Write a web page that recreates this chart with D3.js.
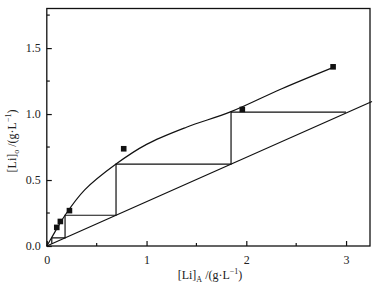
<!DOCTYPE html>
<html lang="en">
<head>
<meta charset="UTF-8">
<title>Li extraction stages</title>
<script src="https://d3js.org/d3.v7.min.js"></script>
<style>
  body { margin: 0; background: #fff; }
  text { font-family: "Liberation Serif", "Times New Roman", serif; fill: #222; }
</style>
</head>
<body>
<div id="chart"></div>
<script>
// measured points [Li]A, [Li]o
var pointsX = [0.10, 0.136, 0.227, 0.771, 1.96, 2.87];
var pointsY = [0.141, 0.186, 0.268, 0.737, 1.035, 1.358];

// equilibrium curve
var curveX = [0, 0.05, 0.183, 0.38, 0.694, 1.0, 1.4, 1.847, 2.35, 2.86];
var curveY = [0, 0.065, 0.233, 0.425, 0.621, 0.77, 0.9, 1.018, 1.19, 1.35];

// operating line end points
var opX = [0, 3.26];
var opY = [0, 1.095];

// staircase corners
var stepX = [3.0, 1.847, 1.847, 0.694, 0.694, 0.183, 0.183, 0.05, 0.05];
var stepY = [1.015, 1.015, 0.621, 0.621, 0.233, 0.233, 0.0615, 0.0615, 0.017];

var xTicks = [0, 1, 2, 3];
var yTicks = [0.0, 0.5, 1.0, 1.5];

var width = 386, height = 292;
var margin = {left: 46.8, right: 16, top: 8.5, bottom: 46};

var svg = d3.select("#chart").append("svg")
  .attr("width", width)
  .attr("height", height);

var x = d3.scaleLinear().domain([0, 3.24]).range([margin.left, width - margin.right]);
var y = d3.scaleLinear().domain([0, 1.8]).range([height - margin.bottom, margin.top]);

// frame
svg.append("rect")
  .attr("x", x(0)).attr("y", y(1.8))
  .attr("width", x(3.24) - x(0)).attr("height", y(0) - y(1.8))
  .attr("fill", "none").attr("stroke", "#111").attr("stroke-width", 1.3);

// axes with inward ticks
var xAxis = d3.axisBottom(x).tickValues(xTicks).tickSize(-5).tickPadding(9)
  .tickFormat(d3.format("d"));
var gx = svg.append("g").attr("transform", "translate(0," + y(0) + ")").call(xAxis);
var yAxis = d3.axisLeft(y).tickValues(yTicks).tickSize(-5).tickPadding(6)
  .tickFormat(d3.format(".1f"));
var gy = svg.append("g").attr("transform", "translate(" + x(0) + ",0)").call(yAxis);

[gx, gy].forEach(function(g) {
  g.select(".domain").remove();
  g.selectAll("line").attr("stroke", "#111").attr("stroke-width", 1.2);
  g.selectAll("text").style("font-size", "12px").attr("fill", "#222");
});

// minor ticks
svg.append("g").selectAll("line").data([0.5, 1.5, 2.5]).enter().append("line")
  .attr("x1", function(d) { return x(d); }).attr("x2", function(d) { return x(d); })
  .attr("y1", y(0)).attr("y2", y(0) - 3)
  .attr("stroke", "#111").attr("stroke-width", 1.2);
svg.append("g").selectAll("line").data([0.25, 0.75, 1.25, 1.75]).enter().append("line")
  .attr("y1", function(d) { return y(d); }).attr("y2", function(d) { return y(d); })
  .attr("x1", x(0)).attr("x2", x(0) + 3)
  .attr("stroke", "#111").attr("stroke-width", 1.2);

var line = d3.line().x(function(d) { return x(d[0]); }).y(function(d) { return y(d[1]); });

// operating line
svg.append("path")
  .attr("d", line(d3.zip(opX, opY)))
  .attr("fill", "none").attr("stroke", "#111").attr("stroke-width", 1.2);

// equilibrium curve
svg.append("path")
  .attr("d", d3.line().x(function(d) { return x(d[0]); }).y(function(d) { return y(d[1]); })
    .curve(d3.curveCatmullRom.alpha(0.5))(d3.zip(curveX, curveY)))
  .attr("fill", "none").attr("stroke", "#111").attr("stroke-width", 1.2);

// stairs
svg.append("path")
  .attr("d", line(d3.zip(stepX, stepY)))
  .attr("fill", "none").attr("stroke", "#111").attr("stroke-width", 1.2);

// squares
svg.append("g").selectAll("rect").data(d3.zip(pointsX, pointsY)).enter().append("rect")
  .attr("x", function(d) { return x(d[0]) - 2.8; })
  .attr("y", function(d) { return y(d[1]) - 2.8; })
  .attr("width", 5.6).attr("height", 5.6)
  .attr("fill", "#111");

// axis titles
var xt = svg.append("text")
  .attr("x", 210).attr("y", 279)
  .attr("text-anchor", "middle").style("font-size", "12px");
xt.append("tspan").text("[Li]");
xt.append("tspan").text("A").style("font-size", "8px").attr("dy", 3);
xt.append("tspan").text(" /(g\u00b7L").attr("dy", -3);
xt.append("tspan").text("\u22121").style("font-size", "8px").attr("dy", -5);
xt.append("tspan").text(")").attr("dy", 5);

var yt = svg.append("text")
  .attr("transform", "translate(16,141) rotate(-90)")
  .attr("text-anchor", "middle").style("font-size", "12px");
yt.append("tspan").text("[Li]");
yt.append("tspan").text("o").style("font-size", "8px").attr("dy", 3);
yt.append("tspan").text(" /(g\u00b7L").attr("dy", -3);
yt.append("tspan").text("\u22121").style("font-size", "8px").attr("dy", -5);
yt.append("tspan").text(")").attr("dy", 5);
</script>
</body>
</html>
